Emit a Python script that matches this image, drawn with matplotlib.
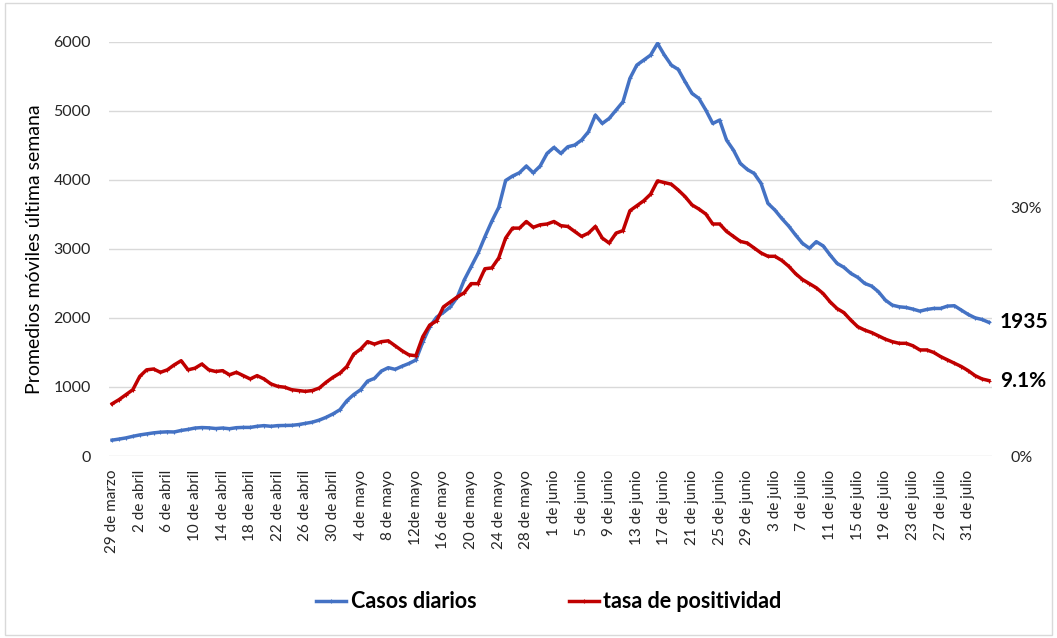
import matplotlib
matplotlib.use("Agg")
import matplotlib.pyplot as plt
from matplotlib.patches import Rectangle

# ---- data ----
tick_labels = ["29 de marzo", "2 de abril", "6 de abril", "10 de abril", "14 de abril",
               "18 de abril", "22 de abril", "26 de abril", "30 de abril", "4 de mayo",
               "8 de mayo", "12de mayo", "16 de mayo", "20 de mayo", "24 de mayo",
               "28 de mayo", "1 de junio", "5 de junio", "9 de junio", "13 de junio",
               "17 de junio", "21 de junio", "25 de junio", "29 de junio", "3 de julio",
               "7 de julio", "11 de julio", "15 de julio", "19 de julio", "23 de julio",
               "27 de julio", "31 de julio"]

casos_diarios = [230, 245, 262, 285, 305, 320, 335, 345, 350, 348,
                 370, 385, 405, 412, 408, 398, 405, 395, 410, 414,
                 414, 430, 440, 430, 440, 442, 444, 455, 472, 490,
                 520, 560, 610, 670, 800, 890, 960, 1085, 1124, 1230,
                 1279, 1255, 1300, 1340, 1390, 1650, 1870, 2010, 2080, 2160,
                 2300, 2548, 2741, 2934, 3175, 3400, 3600, 3990, 4054, 4102,
                 4199, 4102, 4199, 4382, 4469, 4382, 4478, 4503, 4575, 4696,
                 4937, 4816, 4889, 5009, 5130, 5468, 5661, 5733, 5806, 5975,
                 5806, 5661, 5598, 5420, 5251, 5178, 5009, 4816, 4865, 4575,
                 4430, 4237, 4150, 4092, 3948, 3658, 3562, 3440, 3330, 3200,
                 3080, 3008, 3104, 3042, 2911, 2790, 2732, 2645, 2587, 2500,
                 2461, 2379, 2258, 2185, 2161, 2151, 2127, 2098, 2122, 2137,
                 2137, 2171, 2176, 2113, 2050, 2001, 1977, 1935]

tasa_positividad = [6.3, 6.8, 7.4, 8.0, 9.6, 10.4, 10.5, 10.1, 10.4, 11.0,
                    11.5, 10.4, 10.6, 11.1, 10.4, 10.2, 10.3, 9.8, 10.1, 9.7,
                    9.3, 9.7, 9.3, 8.7, 8.4, 8.3, 8.0, 7.9, 7.8, 7.9,
                    8.2, 8.9, 9.5, 10.0, 10.8, 12.3, 12.9, 13.8, 13.5, 13.8,
                    13.9, 13.3, 12.7, 12.2, 12.1, 14.4, 15.8, 16.3, 18.0, 18.6,
                    19.2, 19.7, 20.8, 20.8, 22.6, 22.7, 23.9, 26.3, 27.5, 27.5,
                    28.3, 27.6, 27.9, 28.0, 28.3, 27.8, 27.7, 27.1, 26.5, 26.9,
                    27.7, 26.3, 25.7, 26.9, 27.2, 29.6, 30.2, 30.8, 31.6, 33.2,
                    33.0, 32.8, 32.1, 31.3, 30.3, 29.8, 29.2, 28.0, 28.0, 27.1,
                    26.5, 25.9, 25.7, 25.1, 24.5, 24.1, 24.1, 23.6, 22.9, 22.0,
                    21.3, 20.8, 20.3, 19.6, 18.6, 17.8, 17.3, 16.4, 15.6, 15.2,
                    14.9, 14.5, 14.1, 13.8, 13.6, 13.6, 13.3, 12.8, 12.8, 12.5,
                    12.0, 11.6, 11.2, 10.8, 10.3, 9.7, 9.3, 9.1]

left_ticks = [0, 1000, 2000, 3000, 4000, 5000, 6000]
right_ticks = [0, 30]

# ---- style ----
plt.rcParams['font.family'] = ['Lato', 'DejaVu Sans']
BLUE = '#4472C4'
RED = '#C00000'
GRID = '#D9D9D9'
TXT = '#262626'

W, H = 1057, 638
fig = plt.figure(figsize=(W / 100, H / 100), dpi=100)
fig.patches.append(Rectangle((5 / W, 3 / H), (1052 - 5) / W, (635 - 3) / H,
                             transform=fig.transFigure, fill=False,
                             edgecolor=GRID, linewidth=1))

ax_left, ax_right = 109, 992
ax_top, ax_bot = 41.7, 456
ax = fig.add_axes([ax_left / W, (H - ax_bot) / H, (ax_right - ax_left) / W,
                   (ax_bot - ax_top) / H])
ax2 = ax.twinx()

n = len(casos_diarios)
x = list(range(n))

ax.set_xlim(-0.45, n - 1 + 0.45)
ax.set_ylim(0, 6000)
ax2.set_ylim(0, 50)

ax.set_yticks(left_ticks)
ax.set_yticklabels([str(v) for v in left_ticks])
ax2.set_yticks(right_ticks)
ax2.set_yticklabels([f"{v}%" for v in right_ticks])

ax.set_xticks(list(range(0, 4 * len(tick_labels), 4)))
ax.set_xticklabels(tick_labels, rotation=90, fontsize=11, color=TXT)

ax.grid(axis='y', color=GRID, linewidth=1)
ax.set_axisbelow(True)
for a in (ax, ax2):
    for s in a.spines.values():
        s.set_visible(False)
ax.tick_params(axis='both', length=0)
ax.tick_params(axis='y', pad=13, labelsize=11.5, labelcolor=TXT)
ax.tick_params(axis='x', pad=10)
ax2.tick_params(axis='y', length=0, pad=13, labelsize=11.5, labelcolor=TXT)

l1, = ax.plot(x, casos_diarios, color=BLUE, linewidth=2.5, marker='+',
              markersize=3, markeredgewidth=0.8, label='Casos diarios', zorder=3)
l2, = ax2.plot(x, tasa_positividad, color=RED, linewidth=2.5, marker='+',
               markersize=3, markeredgewidth=0.8, label='tasa de positividad', zorder=3)

ax.set_ylabel("Promedios móviles última semana", fontsize=14, color='black')
ax.yaxis.set_label_coords(-0.075, 0.5)

ax.annotate(f"{casos_diarios[-1]}", xy=(x[-1], casos_diarios[-1]), xytext=(8, 0),
            textcoords='offset points', ha='left', va='center',
            fontsize=15, fontweight='bold', color='black')
ax2.annotate(f"{tasa_positividad[-1]}%", xy=(x[-1], tasa_positividad[-1]), xytext=(8, 0),
             textcoords='offset points', ha='left', va='center',
             fontsize=15, fontweight='bold', color='black')

leg = fig.legend(handles=[l1, l2], loc='center', bbox_to_anchor=(549 / W, (H - 602) / H),
                 ncol=2, frameon=False, handlelength=1.4, handletextpad=0.2,
                 columnspacing=4.3, prop={'weight': 'bold', 'size': 15.5})

fig.savefig("out.png", dpi=100)
